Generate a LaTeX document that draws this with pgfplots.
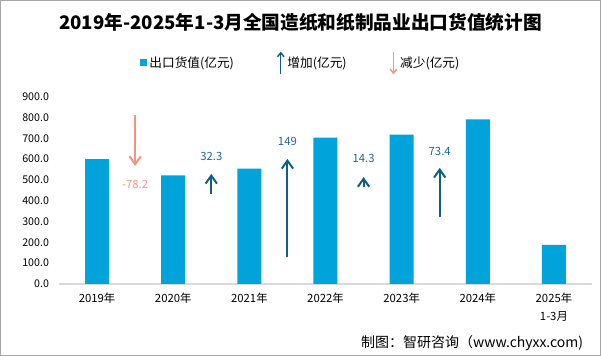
\documentclass[border=0pt]{standalone}
\usepackage{pgfplots}
\pgfplotsset{compat=1.18}
\usetikzlibrary{arrows.meta}
\usepackage{fontspec}
\setmainfont{Noto Sans CJK SC}
\definecolor{barblue}{HTML}{00A3DA}
\definecolor{arrowdark}{HTML}{0E5F80}
\definecolor{uplabel}{HTML}{1D6794}
\definecolor{downc}{HTML}{F29580}
\begin{document}
\begin{tikzpicture}
\useasboundingbox (0pt,0pt) rectangle (450.75pt,267pt);
\draw[black!35, line width=1pt] (0.5pt,0.5pt) rectangle (450.25pt,266.5pt);
\node[font=\bfseries\fontsize{14}{16}\selectfont] at (225.4pt,250.5pt) {2019年-2025年1-3月全国造纸和纸制品业出口货值统计图};
\node[font=\fontsize{10.5}{12}\selectfont, anchor=east, inner sep=0pt] at (437.5pt,9.75pt) {制图：智研咨询（www.chyxx.com)};
\begin{axis}[
  at={(44.25pt,54pt)}, anchor=south west,
  scale only axis, width=399.75pt, height=140.5pt,
  xmin=-0.5, xmax=6.5, ymin=0, ymax=900,
  axis x line*=bottom, axis y line*=left,
  x axis line style={draw=black!15, line width=0.8pt, -},
  y axis line style={draw=none},
  xtick={0,...,6},
  xticklabels={2019年,2020年,2021年,2022年,2023年,2024年,{2025年\\1-3月}},
  x tick label style={font=\fontsize{8.5}{14}\selectfont, align=center, yshift=-3pt},
  ytick={0,100,...,900},
  yticklabel style={font=\fontsize{8}{9}\selectfont, xshift=-4pt},
  yticklabel={\pgfmathprintnumber[fixed,fixed zerofill,precision=1]{\tick}},
  /pgf/number format/assume math mode=true,
  major tick length=0pt,
  clip=false,
  legend columns=3,
  legend style={at={(0.454,1.18)}, anchor=center, draw=none, fill=none,
    font=\fontsize{9.5}{11}\selectfont,
    /tikz/every even column/.append style={column sep=30pt}},
  legend cell align=left,
]
\addplot[ybar, bar width=18pt, fill=barblue, draw=none,
  legend image code/.code={\fill[barblue] (0pt,-2.6pt) rectangle (5.2pt,2.6pt);}]
  coordinates {(0,600.5) (1,522.3) (2,554.6) (3,703.6) (4,717.9) (5,791.3) (6,187.5)};
\addlegendentry{出口货值(亿元)}
\addlegendimage{legend image code/.code={\draw[arrowdark, line width=1.1pt, -{Straight Barb[length=3pt,width=5pt]}] (2pt,-8.5pt) -- (2pt,8.5pt);}}
\addlegendentry{增加(亿元)}
\addlegendimage{legend image code/.code={\draw[downc, line width=1.1pt, -{Straight Barb[length=3pt,width=5pt]}] (2pt,8.5pt) -- (2pt,-8.5pt);}}
\addlegendentry{减少(亿元)}
% arrows
\addplot[forget plot, downc, line width=1.5pt, -{Straight Barb[length=6pt,width=8.5pt]}] coordinates {(0.5,810) (0.5,567)};
\addplot[forget plot, arrowdark, line width=1.5pt, -{Straight Barb[length=6pt,width=8.5pt]}] coordinates {(1.5,433) (1.5,529)};
\addplot[forget plot, arrowdark, line width=1.5pt, -{Straight Barb[length=6pt,width=8.5pt]}] coordinates {(2.5,130) (2.5,601)};
\addplot[forget plot, arrowdark, line width=1.5pt, -{Straight Barb[length=6pt,width=8.5pt]}] coordinates {(3.5,467) (3.5,514)};
\addplot[forget plot, arrowdark, line width=1.5pt, -{Straight Barb[length=6pt,width=8.5pt]}] coordinates {(4.5,322) (4.5,558)};
% labels
\node[text=downc, font=\fontsize{8.5}{10}\selectfont] at (axis cs:0.5,476) {-78.2};
\node[text=uplabel, font=\fontsize{8.5}{10}\selectfont] at (axis cs:1.5,611) {32.3};
\node[text=uplabel, font=\fontsize{8.5}{10}\selectfont] at (axis cs:2.5,687) {149};
\node[text=uplabel, font=\fontsize{8.5}{10}\selectfont] at (axis cs:3.5,601) {14.3};
\node[text=uplabel, font=\fontsize{8.5}{10}\selectfont] at (axis cs:4.5,639) {73.4};
\end{axis}
\end{tikzpicture}
\end{document}
